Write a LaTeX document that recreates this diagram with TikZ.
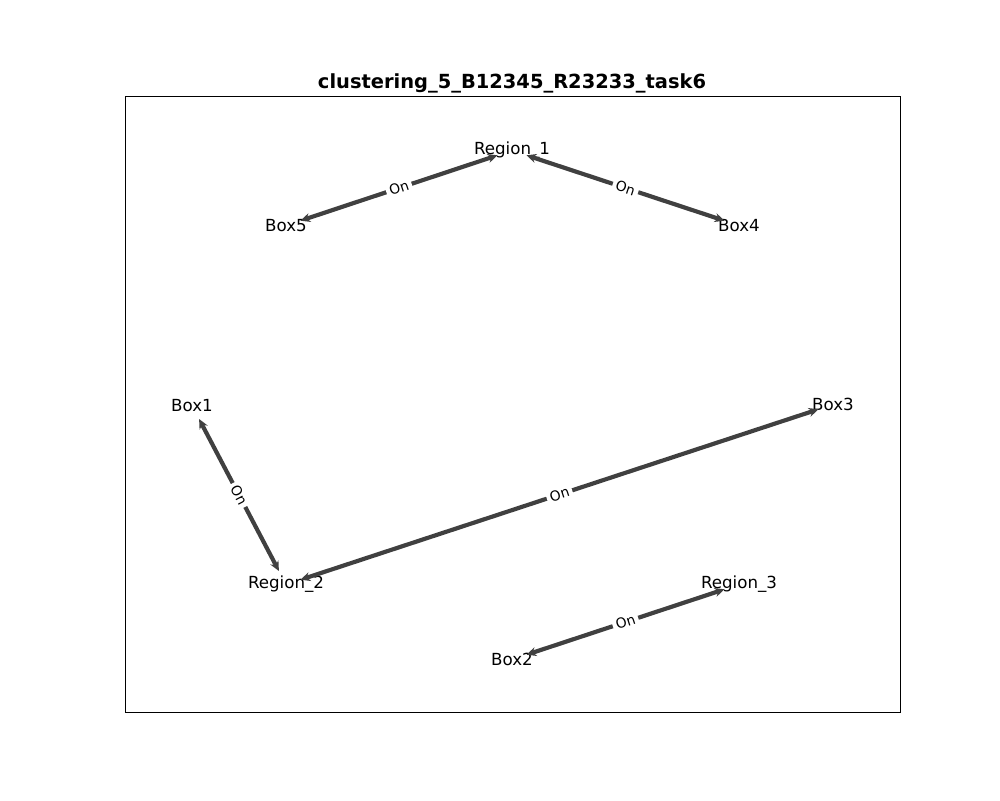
\documentclass[tikz,border=0pt]{standalone}
\usepackage{fontspec}
\setmainfont{DejaVu Sans}
\usetikzlibrary{arrows.meta}

\tikzset{
  obj/.style={inner sep=0pt,font=\fontsize{12}{14}\selectfont},
  rel/.style={draw=black!75,line width=3pt,{Stealth[length=7pt,width=6.5pt]}-{Stealth[length=7pt,width=6.5pt]},shorten <=11pt,shorten >=11pt},
  onlabel/.style={midway,sloped,fill=white,inner sep=2.5pt,font=\fontsize{10}{12}\selectfont}
}

\begin{document}
\begin{tikzpicture}[x=0.72pt,y=-0.72pt]

\useasboundingbox (0,0) rectangle (1000,800);
\draw[line width=0.6pt] (125,96) rectangle (900,712);
\node[font=\fontsize{14}{16}\selectfont\bfseries](T) at (512,83){clustering\_5\_B12345\_R23233\_task6};

\node[obj](R1) at (512,150.5){Region\_1};
\node[obj](B5) at (286,225.5){Box5};
\node[obj](B4) at (739,225.5){Box4};
\node[obj](B1) at (192,405.5){Box1};
\node[obj](B3) at (833,404.5){Box3};
\node[obj](R2) at (286,584.5){Region\_2};
\node[obj](R3) at (739,584.5){Region\_3};
\node[obj](B2) at (512,659.5){Box2};

\path (R1.center) edge[rel] node[onlabel]{On} (B5.center)
	(R1.center) edge[rel] node[onlabel]{On} (B4.center)
	(B1.center) edge[rel] node[onlabel]{On} (R2.center)
	(R2.center) edge[rel] node[onlabel]{On} (B3.center)
	(B2.center) edge[rel] node[onlabel]{On} (R3.center);

\end{tikzpicture}
\end{document}
